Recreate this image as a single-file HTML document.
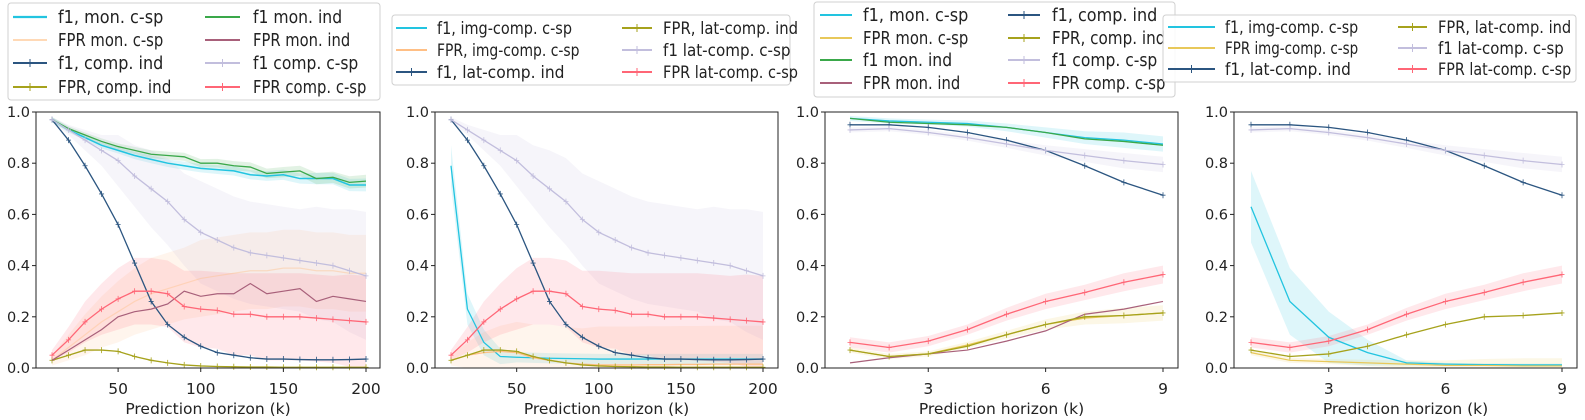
<!DOCTYPE html>
<html><head><meta charset="utf-8"><style>
html,body{margin:0;padding:0;background:#fff;width:1585px;height:420px;overflow:hidden}
svg{display:block;font-family:"DejaVu Sans","Liberation Sans",sans-serif}
</style></head><body>
<svg id="chart" width="1585" height="420" viewBox="0 0 1585 420" xmlns="http://www.w3.org/2000/svg"></svg>
<script>
// ---- data ----
const xLong = [10,20,30,40,50,60,70,80,90,100,110,120,130,140,150,160,170,180,190,200];
const xShort = [1,2,3,4,5,6,7,8,9];
const longTicks = [50,100,150,200];
const shortTicks = [3,6,9];
const yTicks = [0.0,0.2,0.4,0.6,0.8,1.0];

const p1F1MonCsp = [0.97,0.93,0.90,0.87,0.85,0.83,0.815,0.80,0.79,0.78,0.775,0.77,0.755,0.75,0.755,0.74,0.74,0.74,0.715,0.715];
const p1F1MonInd = [0.97,0.935,0.91,0.885,0.865,0.85,0.835,0.83,0.825,0.80,0.80,0.79,0.785,0.76,0.765,0.77,0.74,0.745,0.725,0.73];
const p1FprMonCsp = [0.03,0.08,0.13,0.18,0.22,0.26,0.29,0.31,0.33,0.35,0.36,0.37,0.38,0.38,0.39,0.39,0.38,0.38,0.37,0.37];
const p1FprMonInd = [0.03,0.07,0.11,0.15,0.20,0.22,0.23,0.25,0.30,0.28,0.29,0.29,0.33,0.29,0.30,0.31,0.26,0.28,0.27,0.26];
const pF1CompInd = [0.97,0.89,0.79,0.68,0.56,0.41,0.26,0.17,0.12,0.085,0.06,0.05,0.04,0.035,0.035,0.033,0.032,0.032,0.033,0.035];
const pFprCompInd = [0.03,0.05,0.07,0.07,0.065,0.045,0.03,0.02,0.012,0.008,0.006,0.005,0.004,0.004,0.003,0.003,0.003,0.003,0.003,0.003];
const pF1CompCsp = [0.97,0.93,0.89,0.85,0.81,0.75,0.70,0.65,0.58,0.53,0.50,0.47,0.45,0.44,0.43,0.42,0.41,0.40,0.38,0.36];
const pFprCompCsp = [0.05,0.11,0.18,0.23,0.27,0.30,0.30,0.29,0.24,0.23,0.225,0.21,0.21,0.20,0.20,0.20,0.195,0.19,0.185,0.18];
const p2F1ImgCsp = [0.79,0.23,0.10,0.045,0.042,0.04,0.038,0.037,0.036,0.035,0.035,0.035,0.035,0.035,0.035,0.035,0.035,0.035,0.035,0.035];
const p2FprImgCsp = [0.03,0.05,0.06,0.065,0.06,0.04,0.03,0.02,0.015,0.012,0.012,0.012,0.013,0.013,0.014,0.014,0.015,0.015,0.015,0.015];

const sprSmall = [0.01,0.01,0.01,0.012,0.012,0.014,0.015,0.015,0.016,0.016,0.017,0.018,0.018,0.019,0.02,0.02,0.022,0.022,0.024,0.025];
const sprLav = [0.01,0.02,0.04,0.06,0.10,0.12,0.15,0.17,0.18,0.20,0.20,0.20,0.20,0.20,0.20,0.20,0.22,0.22,0.24,0.25];
const sprRed = [0.02,0.05,0.08,0.10,0.12,0.13,0.13,0.13,0.14,0.15,0.15,0.16,0.16,0.17,0.17,0.17,0.17,0.17,0.18,0.18];
const sprOrange = [0.02,0.05,0.08,0.10,0.12,0.13,0.14,0.14,0.14,0.15,0.15,0.15,0.15,0.15,0.15,0.15,0.15,0.15,0.15,0.15];
const sprCyan2 = [0.08,0.06,0.05,0.03,0.02,0.02,0.02,0.02,0.02,0.02,0.02,0.02,0.02,0.02,0.02,0.02,0.02,0.02,0.02,0.02];

const p3F1MonCsp = [0.975,0.965,0.96,0.955,0.94,0.92,0.90,0.89,0.875];
const p3FprMonCsp = [0.07,0.045,0.055,0.09,0.13,0.17,0.195,0.205,0.215];
const p3F1MonInd = [0.975,0.96,0.955,0.95,0.94,0.92,0.895,0.885,0.87];
const p3FprMonInd = [0.02,0.04,0.055,0.07,0.105,0.145,0.21,0.23,0.26];
const sF1CompInd = [0.95,0.95,0.94,0.92,0.89,0.85,0.79,0.725,0.675];
const sFprCompInd = [0.07,0.045,0.055,0.085,0.13,0.17,0.20,0.205,0.215];
const sF1CompCsp = [0.93,0.935,0.92,0.90,0.875,0.85,0.83,0.81,0.795];
const sFprCompCsp = [0.10,0.08,0.105,0.15,0.21,0.26,0.295,0.335,0.365];
const p4F1ImgCsp = [0.63,0.26,0.12,0.06,0.02,0.015,0.013,0.012,0.012];
const p4FprImgCsp = [0.06,0.03,0.025,0.02,0.015,0.01,0.01,0.008,0.008];
const sSprSmall = [0.01,0.01,0.01,0.012,0.015,0.02,0.025,0.03,0.03];
const sSprRed = [0.02,0.02,0.02,0.02,0.025,0.03,0.03,0.035,0.035];
const sSprCyan = [0.14,0.13,0.1,0.05,0.01,0.005,0.005,0.005,0.005];

const C = {cyan:'#22c4e0',orange:'#ffbf85',yellow:'#e8c85a',green:'#3aa84a',maroon:'#a8607a',navy:'#2b5580',olive:'#a6a21c',lav:'#c2bedd',red:'#ff6676'};

const panels = [
 {name:'panel-1', ax:[36,380], xp:[10,52,200,366], xs:xLong, ticks:longTicks,
  legend:{box:[8,3,380,100], rows:[17,40,63,87], cols:[[13,47,58],[205,240,253]], fs:17.5, cw:8.1},
  series:[
   {n:'f1, mon. c-sp', c:C.cyan, y:p1F1MonCsp, s:sprSmall, m:false, lw:1.5},
   {n:'FPR mon. c-sp', c:C.orange, y:p1FprMonCsp, s:sprOrange, m:false, lw:1.2, la:0.4},
   {n:'f1, comp. ind', c:C.navy, y:pF1CompInd, s:null, m:true, lw:1.3},
   {n:'FPR, comp. ind', c:C.olive, y:pFprCompInd, s:null, m:true, lw:1.3},
   {n:'f1 mon. ind', c:C.green, y:p1F1MonInd, s:sprSmall, m:false, lw:1.3},
   {n:'FPR mon. ind', c:C.maroon, y:p1FprMonInd, s:null, m:false, lw:1.2},
   {n:'f1 comp. c-sp', c:C.lav, y:pF1CompCsp, s:sprLav, m:true, lw:1.3},
   {n:'FPR comp. c-sp', c:C.red, y:pFprCompCsp, s:sprRed, m:true, lw:1.3}]},
 {name:'panel-2', ax:[435,778], xp:[10,451,200,763], xs:xLong, ticks:longTicks,
  legend:{box:[392,15,790,85], rows:[28,50,72], cols:[[396,427,437],[622,652,663]], fs:16.5, cw:7.5},
  series:[
   {n:'f1, img-comp. c-sp', c:C.cyan, y:p2F1ImgCsp, s:sprCyan2, m:false, lw:1.3},
   {n:'FPR, img-comp. c-sp', c:C.orange, y:p2FprImgCsp, s:sprOrange, m:false, lw:1.3},
   {n:'f1, lat-comp. ind', c:C.navy, y:pF1CompInd, s:null, m:true, lw:1.3},
   {n:'FPR, lat-comp. ind', c:C.olive, y:pFprCompInd, s:null, m:true, lw:1.3},
   {n:'f1 lat-comp. c-sp', c:C.lav, y:pF1CompCsp, s:sprLav, m:true, lw:1.3},
   {n:'FPR lat-comp. c-sp', c:C.red, y:pFprCompCsp, s:sprRed, m:true, lw:1.3}]},
 {name:'panel-3', ax:[825,1178], xp:[1,850,9,1163], xs:xShort, ticks:shortTicks,
  legend:{box:[814,2,1175,97], rows:[15,38,60,83], cols:[[820,852,863],[1008,1040,1052]], fs:17.5, cw:8.1},
  series:[
   {n:'f1, mon. c-sp', c:C.cyan, y:p3F1MonCsp, s:sSprSmall, m:false, lw:1.3},
   {n:'FPR mon. c-sp', c:C.yellow, y:p3FprMonCsp, s:sSprSmall, m:false, lw:1.3},
   {n:'f1 mon. ind', c:C.green, y:p3F1MonInd, s:null, m:false, lw:1.3},
   {n:'FPR mon. ind', c:C.maroon, y:p3FprMonInd, s:null, m:false, lw:1.2},
   {n:'f1, comp. ind', c:C.navy, y:sF1CompInd, s:null, m:true, lw:1.3},
   {n:'FPR, comp. ind', c:C.olive, y:sFprCompInd, s:null, m:true, lw:1.3},
   {n:'f1 comp. c-sp', c:C.lav, y:sF1CompCsp, s:sSprSmall, m:true, lw:1.3},
   {n:'FPR comp. c-sp', c:C.red, y:sFprCompCsp, s:sSprRed, m:true, lw:1.3}]},
 {name:'panel-4', ax:[1234,1577], xp:[1,1251,9,1562], xs:xShort, ticks:shortTicks,
  legend:{box:[1163,15,1576,82], rows:[27,48,69], cols:[[1168,1215,1225],[1398,1427,1438]], fs:16.5, cw:7.4},
  series:[
   {n:'f1, img-comp. c-sp', c:C.cyan, y:p4F1ImgCsp, s:sSprCyan, m:false, lw:1.3},
   {n:'FPR img-comp. c-sp', c:C.yellow, y:p4FprImgCsp, s:sSprSmall, m:false, lw:1.2},
   {n:'f1, lat-comp. ind', c:C.navy, y:sF1CompInd, s:null, m:true, lw:1.3},
   {n:'FPR, lat-comp. ind', c:C.olive, y:sFprCompInd, s:null, m:true, lw:1.3},
   {n:'f1 lat-comp. c-sp', c:C.lav, y:sF1CompCsp, s:sSprSmall, m:true, lw:1.3},
   {n:'FPR lat-comp. c-sp', c:C.red, y:sFprCompCsp, s:sSprRed, m:true, lw:1.3}]}
];

const svg = document.getElementById('chart');
const NS = 'http://www.w3.org/2000/svg';
function mk(tag, attrs, parent){const e=document.createElementNS(NS,tag);for(const k in attrs)e.setAttribute(k,attrs[k]);(parent||svg).appendChild(e);return e;}
const Y0=368, Y1=112;
function yS(v){return Y0+(Y1-Y0)*v;}
function slug(s){return s.toLowerCase().replace(/[^a-z0-9]+/g,'-').replace(/^-|-$/g,'');}

panels.forEach(p=>{
  const g=mk('g',{});
  
  
  const xS=v=>p.xp[1]+(v-p.xp[0])*(p.xp[3]-p.xp[1])/(p.xp[2]-p.xp[0]);
  p.series.forEach(s=>{
    if(!s.s) return;
    let up=p.xs.map((x,i)=>xS(x)+','+yS(Math.min(1,s.y[i]+s.s[i])));
    let lo=p.xs.map((x,i)=>xS(x)+','+yS(Math.max(0,s.y[i]-s.s[i]))).reverse();
    const b=mk('polygon',{points:up.concat(lo).join(' '),fill:s.c,'fill-opacity':0.15,stroke:'none'},g);
    
    
  });
  p.series.forEach(s=>{
    const l=mk('polyline',{points:p.xs.map((x,i)=>xS(x)+','+yS(s.y[i])).join(' '),fill:'none',stroke:s.c,'stroke-width':s.lw,'stroke-opacity':s.la||1},g);
    
    
    if(s.m){p.xs.forEach((x,i)=>{const cx=xS(x),cy=yS(s.y[i]);
      const mm=mk('path',{d:`M${cx-2.5},${cy}H${cx+2.5}M${cx},${cy-3}V${cy+3}`,stroke:s.c,'stroke-width':0.8},g);
      
      });}
  });
  const fr=mk('rect',{x:p.ax[0],y:Y1,width:p.ax[1]-p.ax[0],height:Y0-Y1,fill:'none',stroke:'#222','stroke-width':1},g);
  
  
  yTicks.forEach(v=>{
    mk('line',{x1:p.ax[0]-4,x2:p.ax[0],y1:yS(v),y2:yS(v),stroke:'#222'},g);
    const t=mk('text',{x:p.ax[0]-6,y:yS(v)+5,'text-anchor':'end','font-size':14.5,fill:'#222'},g);
    t.textContent=v.toFixed(1);
    
    
  });
  p.ticks.forEach(v=>{
    mk('line',{x1:xS(v),x2:xS(v),y1:Y0,y2:Y0+4,stroke:'#222'},g);
    const t=mk('text',{x:xS(v),y:Y0+26,'text-anchor':'middle','font-size':15.5,fill:'#222'},g);
    t.textContent=String(v);
    
    
  });
  const xl=mk('text',{x:(p.ax[0]+p.ax[1])/2,y:414,'text-anchor':'middle','font-size':15.5,fill:'#222'},g);
  xl.textContent='Prediction horizon (k)';
  
  
  const L=p.legend;
  const lg=mk('g',{},g);
  
  
  mk('rect',{x:L.box[0],y:L.box[1],width:L.box[2]-L.box[0],height:L.box[3]-L.box[1],rx:3,fill:'#fff','fill-opacity':0.85,stroke:'#d0d0d0'},lg);
  const nr=L.rows.length;
  p.series.forEach((s,i)=>{
    const col=L.cols[Math.floor(i/nr)], ry=L.rows[i%nr];
    const e=mk('g',{},lg);
    
    
    mk('line',{x1:col[0],x2:col[1],y1:ry,y2:ry,stroke:s.c,'stroke-width':s.lw+0.8,'stroke-opacity':s.la?0.6:1},e);
    if(s.m){const cx=(col[0]+col[1])/2;mk('path',{d:`M${cx},${ry-4}V${ry+4}`,stroke:s.c,'stroke-width':1},e);}
    const t=mk('text',{x:col[2],y:ry+6,'font-size':L.fs,fill:'#222',textLength:(s.n.length*L.cw).toFixed(1),lengthAdjust:'spacingAndGlyphs'},e);
    t.textContent=s.n;
  });
});
</script>
</body></html>
